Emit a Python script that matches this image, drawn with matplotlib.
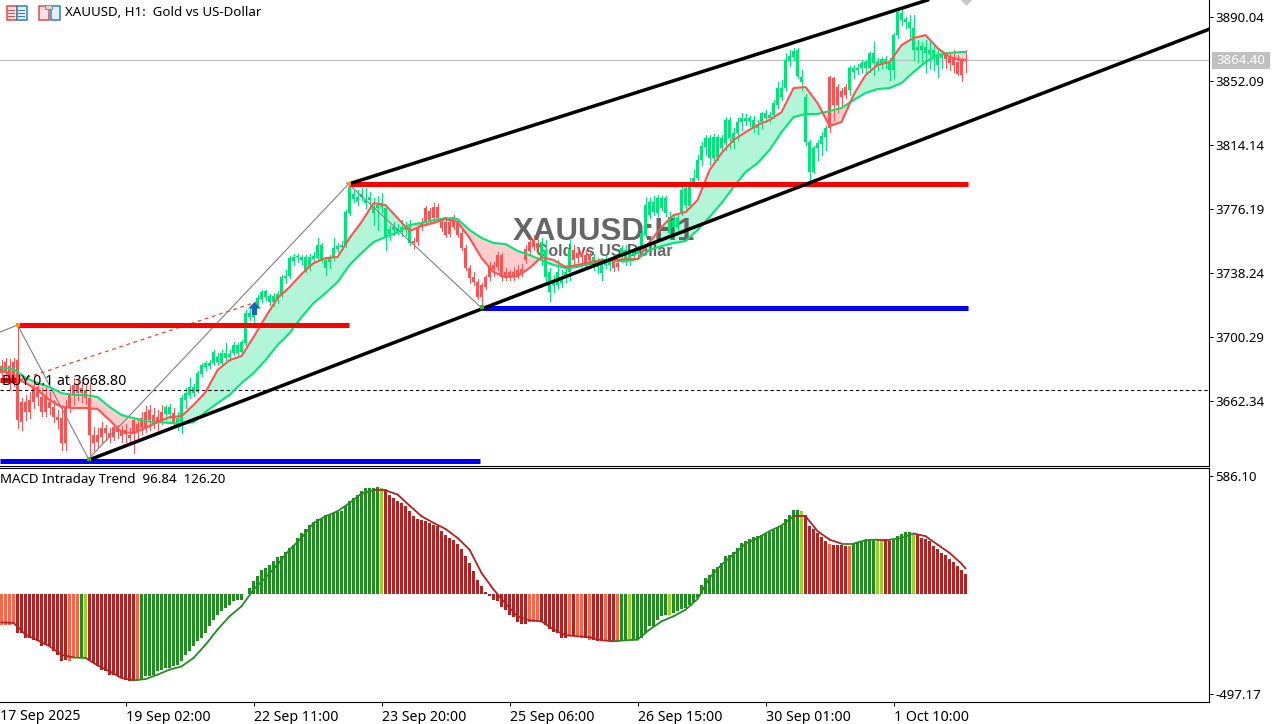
import numpy as np
import matplotlib
matplotlib.use("Agg")
import matplotlib.pyplot as plt
from matplotlib.collections import LineCollection
from matplotlib.patches import Rectangle
from matplotlib.path import Path

# candles (colour in the terminal follows the trend, so open/close order keeps it)
opens = [3683.1,3685.4,3683.1,3685.4,3686.6,3661.7,3661.7,3662.9,3670.6,3670.6,3664.7,3664.7,3661.7,3658.8,3652.8,3652.2,3658.8,3667.0,3671.8,3671.8,
    3670.0,3668.8,3664.1,3642.1,3642.1,3646.3,3646.3,3643.3,3646.9,3646.3,3643.9,3645.1,3642.1,3651.0,3648.7,3652.2,3655.8,3657.0,3654.0,3652.8,
    3655.8,3654.6,3654.6,3655.2,3648.1,3649.8,3662.9,3665.9,3667.0,3667.6,3678.3,3682.5,3683.1,3684.8,3685.4,3684.8,3687.8,3688.4,3690.8,3690.8,
    3691.4,3696.7,3712.1,3712.1,3719.2,3722.8,3724.0,3721.0,3721.0,3722.2,3725.2,3735.3,3736.4,3745.3,3747.7,3745.9,3740.0,3741.8,3746.5,3747.1,
    3746.5,3741.2,3744.7,3747.1,3752.4,3753.6,3754.8,3773.8,3782.1,3780.9,3783.3,3779.7,3781.5,3773.8,3776.8,3777.4,3759.0,3761.3,3763.7,3763.1,
    3762.5,3763.7,3756.0,3757.2,3764.9,3767.9,3776.8,3775.0,3777.4,3777.4,3768.5,3768.5,3768.5,3771.4,3767.9,3761.9,3753.0,3741.2,3735.8,3732.9,
    3731.1,3735.8,3741.8,3743.0,3748.9,3748.9,3738.8,3738.8,3738.8,3740.0,3740.6,3752.4,3756.6,3757.8,3756.0,3747.1,3735.8,3726.9,3731.1,3731.1,
    3732.3,3735.8,3738.8,3751.9,3750.1,3750.1,3748.9,3748.9,3741.8,3741.8,3738.2,3743.0,3743.0,3745.9,3744.1,3747.7,3745.9,3745.9,3748.9,3750.1,
    3751.9,3760.7,3772.6,3774.4,3773.8,3776.8,3773.8,3761.9,3765.5,3765.5,3774.4,3778.5,3778.0,3792.2,3794.5,3805.2,3812.9,3806.4,3806.4,3807.0,
    3812.3,3815.3,3818.3,3815.3,3821.2,3827.8,3828.4,3828.4,3824.2,3824.2,3827.8,3830.1,3830.1,3831.9,3837.8,3842.6,3847.9,3863.9,3866.3,3855.0,
    3851.5,3815.9,3798.1,3798.1,3812.3,3814.7,3818.9,3854.4,3853.8,3848.5,3846.1,3848.5,3846.7,3857.4,3858.6,3859.8,3859.8,3859.8,3862.8,3861.6,
    3862.8,3862.8,3858.6,3858.6,3879.3,3888.2,3887.1,3883.5,3870.5,3870.5,3870.5,3868.7,3868.1,3865.7,3861.6,3865.7,3867.5,3865.7,3865.7,3863.3,3864.5,3865.1]
closes = [3678.9,3679.5,3674.8,3676.0,3651.0,3649.8,3655.8,3655.8,3661.7,3664.7,3655.8,3655.8,3658.2,3652.8,3651.0,3637.4,3637.4,3658.2,3665.9,3667.0,
    3667.0,3664.1,3642.1,3637.4,3638.0,3640.9,3643.3,3640.9,3640.9,3643.9,3641.5,3642.7,3640.4,3643.9,3643.9,3646.3,3646.3,3651.0,3648.7,3649.8,
    3651.0,3658.8,3658.8,3649.3,3652.2,3664.1,3667.0,3670.6,3670.6,3678.9,3683.7,3684.8,3684.8,3691.4,3688.4,3690.8,3690.8,3690.2,3695.5,3695.5,
    3697.3,3714.5,3714.5,3713.9,3723.4,3726.9,3727.5,3724.6,3724.6,3725.8,3735.8,3736.4,3747.1,3747.7,3748.3,3747.7,3747.7,3747.7,3748.3,3754.8,
    3754.8,3745.9,3747.7,3753.0,3754.2,3754.8,3774.4,3789.2,3785.1,3783.3,3785.1,3781.5,3783.3,3777.4,3778.5,3779.7,3776.8,3764.3,3765.5,3764.9,
    3765.5,3765.5,3765.5,3756.0,3756.6,3765.5,3768.5,3769.6,3770.8,3770.8,3764.9,3760.7,3761.3,3765.5,3760.7,3753.0,3741.2,3735.3,3732.9,3724.0,
    3724.0,3729.9,3735.8,3740.6,3741.8,3735.8,3735.8,3735.8,3736.4,3737.0,3738.2,3745.9,3751.3,3753.6,3753.0,3756.6,3751.9,3738.8,3732.9,3738.8,
    3735.8,3738.8,3751.9,3745.9,3747.1,3747.7,3744.1,3745.9,3747.7,3744.1,3744.1,3745.9,3745.9,3741.2,3741.8,3753.0,3751.9,3750.1,3750.7,3751.9,
    3761.9,3778.5,3780.3,3780.3,3782.7,3782.7,3782.7,3771.4,3769.6,3770.8,3787.4,3788.6,3789.8,3794.5,3805.2,3813.5,3818.3,3818.3,3818.9,3818.9,
    3818.3,3829.0,3829.0,3821.2,3827.8,3830.1,3830.1,3830.1,3829.0,3826.0,3833.1,3833.1,3831.9,3839.0,3847.9,3847.9,3864.5,3866.9,3869.9,3870.5,
    3854.4,3842.6,3815.9,3812.3,3815.3,3819.5,3824.2,3824.2,3837.8,3837.8,3842.6,3843.8,3859.8,3859.8,3859.8,3862.8,3863.4,3868.7,3868.7,3863.4,
    3865.1,3865.1,3862.8,3879.3,3893.0,3892.4,3888.8,3887.1,3883.5,3872.2,3872.8,3872.2,3870.5,3870.5,3867.5,3867.5,3865.1,3862.8,3861.6,3856.2,3855.6,3864.4]
highs = [3686.6,3687.8,3687.2,3687.8,3707.4,3664.1,3665.9,3667.6,3674.8,3673.6,3670.0,3671.2,3667.6,3662.9,3657.0,3660.0,3662.9,3671.8,3676.0,3674.8,
    3673.6,3672.4,3673.0,3646.9,3646.3,3649.8,3648.1,3646.3,3648.7,3648.1,3647.5,3648.7,3646.3,3652.2,3651.0,3655.8,3659.4,3660.0,3658.2,3657.0,
    3660.0,3660.0,3660.5,3658.2,3655.8,3665.9,3670.0,3676.0,3672.4,3680.1,3684.8,3686.0,3686.6,3692.6,3690.8,3692.6,3696.7,3692.6,3697.3,3696.7,
    3698.5,3716.3,3717.5,3715.7,3725.2,3728.1,3728.1,3725.8,3726.4,3727.5,3737.0,3740.0,3748.3,3749.5,3749.5,3748.9,3748.9,3749.5,3750.7,3759.0,
    3756.0,3747.1,3748.9,3759.0,3756.0,3757.2,3775.6,3790.4,3787.4,3787.4,3788.6,3788.6,3786.2,3782.7,3783.9,3785.6,3778.5,3766.7,3768.5,3767.3,
    3769.6,3768.5,3769.6,3759.0,3766.7,3770.8,3778.0,3776.8,3779.7,3779.1,3770.8,3769.6,3771.4,3772.6,3769.6,3763.7,3754.8,3743.0,3738.8,3734.6,
    3732.3,3737.0,3744.7,3744.7,3750.7,3750.1,3741.2,3740.0,3741.8,3743.0,3743.6,3754.8,3759.0,3760.7,3757.8,3759.0,3757.8,3741.2,3737.0,3745.9,
    3740.0,3743.0,3757.8,3754.8,3753.0,3751.9,3751.9,3750.7,3749.5,3747.1,3747.1,3748.3,3747.1,3748.3,3745.9,3754.8,3754.8,3751.9,3753.0,3754.2,
    3763.7,3783.3,3782.7,3783.9,3784.5,3783.9,3783.9,3774.4,3772.6,3772.6,3789.8,3791.0,3794.5,3799.3,3808.2,3815.9,3820.0,3820.0,3820.6,3820.0,
    3820.0,3830.7,3830.7,3824.2,3830.1,3833.1,3832.5,3831.3,3831.3,3829.0,3833.7,3834.9,3833.7,3840.8,3851.5,3852.7,3868.7,3870.5,3871.6,3871.6,
    3858.6,3844.4,3817.1,3813.5,3817.1,3821.8,3826.0,3855.0,3854.4,3850.3,3847.9,3850.3,3861.0,3861.6,3862.2,3864.5,3864.5,3869.3,3875.2,3865.7,
    3866.3,3866.9,3865.7,3880.5,3895.4,3895.4,3890.0,3891.2,3891.2,3876.4,3875.2,3876.4,3875.2,3873.4,3871.6,3870.5,3869.3,3869.3,3870.5,3867.5,3865.7,3870.5]
lows = [3674.8,3674.2,3668.8,3671.2,3646.3,3645.1,3651.0,3652.2,3658.2,3660.0,3653.4,3653.4,3654.6,3649.8,3646.3,3633.3,3633.3,3655.8,3660.0,3662.9,
    3661.7,3660.5,3628.5,3633.3,3634.4,3636.8,3639.2,3638.0,3639.2,3640.4,3638.0,3638.0,3636.8,3631.5,3640.4,3642.7,3643.9,3645.1,3646.3,3645.1,
    3648.7,3651.0,3652.2,3646.3,3645.1,3643.3,3658.2,3664.1,3665.3,3667.6,3677.1,3680.7,3681.9,3683.7,3683.7,3683.7,3686.6,3686.0,3689.6,3689.0,
    3690.2,3695.5,3710.3,3709.2,3718.0,3721.0,3722.2,3719.2,3718.6,3720.4,3724.0,3732.3,3735.3,3743.0,3744.7,3743.6,3738.8,3740.0,3744.7,3745.9,
    3744.7,3737.0,3741.2,3745.9,3750.7,3751.9,3753.6,3772.6,3780.3,3778.5,3781.5,3776.8,3778.0,3766.7,3763.7,3774.4,3751.9,3757.8,3760.7,3761.3,
    3760.2,3760.7,3754.8,3753.0,3754.8,3763.7,3766.7,3768.5,3768.5,3769.6,3763.1,3759.6,3760.2,3764.3,3759.6,3751.9,3740.0,3732.3,3731.1,3722.8,
    3718.6,3728.7,3734.1,3736.4,3740.0,3734.1,3734.1,3734.1,3734.1,3735.3,3736.4,3744.1,3749.5,3751.9,3750.7,3743.0,3732.9,3721.6,3726.9,3729.3,
    3729.9,3732.9,3734.1,3743.6,3744.7,3744.7,3742.4,3743.6,3740.0,3738.2,3734.1,3741.2,3740.0,3739.4,3740.0,3744.7,3743.0,3743.0,3747.1,3747.1,
    3750.7,3759.6,3770.8,3772.6,3772.0,3775.6,3772.0,3759.0,3762.5,3763.7,3772.6,3775.6,3776.8,3789.8,3793.4,3802.3,3808.2,3802.3,3805.2,3805.2,
    3810.0,3811.2,3812.3,3812.3,3817.1,3823.0,3826.0,3825.4,3821.8,3820.6,3824.2,3827.8,3827.8,3830.1,3836.1,3840.8,3846.7,3861.0,3864.5,3853.9,
    3846.7,3814.1,3793.4,3797.5,3805.2,3808.2,3811.2,3821.8,3829.0,3833.7,3837.8,3842.0,3843.8,3853.9,3856.2,3857.4,3857.4,3857.4,3855.6,3858.6,
    3859.8,3859.8,3852.7,3853.9,3877.6,3885.3,3883.5,3878.2,3864.5,3863.3,3861.6,3857.4,3859.8,3858.6,3854.4,3859.8,3859.8,3858.6,3857.4,3855.6,3852.1,3857.4]

# ribbon of the two moving averages, read every third bar
ribbon_bars = list(range(0, 241, 3)) + [241]
fast_ma = [3680.7,3676.5,3673.0,3668.8,3662.9,3658.8,3658.2,3658.2,3657.6,3651.0,3643.9,3643.3,3646.3,3649.8,3652.8,3653.4,3660.0,3667.6,3680.7,3686.6,
    3689.0,3700.3,3712.1,3723.4,3729.9,3737.6,3744.1,3747.1,3747.7,3759.0,3768.5,3779.7,3778.5,3770.8,3763.1,3766.1,3767.9,3770.2,3768.5,3759.0,
    3747.1,3738.8,3735.8,3736.4,3741.2,3747.7,3745.9,3741.8,3743.0,3744.7,3745.9,3745.9,3746.5,3746.5,3756.6,3765.5,3772.6,3774.4,3781.5,3799.3,
    3809.4,3817.1,3821.8,3826.0,3829.0,3833.7,3847.9,3848.5,3839.0,3825.4,3827.8,3843.8,3855.6,3861.6,3863.3,3873.4,3877.6,3879.3,3871.6,3866.3,3864.5,3864.5]
slow_ma = [3681.9,3681.3,3676.0,3673.0,3670.6,3667.0,3665.9,3665.9,3664.7,3658.8,3654.0,3652.2,3650.4,3649.8,3649.3,3648.7,3649.8,3655.8,3661.1,3665.9,
    3673.0,3678.9,3686.6,3695.5,3702.6,3712.1,3720.4,3726.3,3732.9,3743.0,3750.1,3756.6,3759.6,3762.5,3766.7,3767.9,3769.6,3770.8,3770.2,3763.7,
    3759.0,3756.0,3755.4,3751.3,3748.9,3745.9,3743.0,3741.2,3741.8,3743.6,3744.7,3745.3,3745.3,3746.5,3751.9,3754.2,3756.0,3757.2,3763.7,3771.4,
    3779.7,3789.2,3798.1,3803.4,3811.2,3821.8,3830.7,3832.5,3832.5,3834.3,3836.1,3840.8,3845.0,3847.3,3847.9,3850.9,3857.4,3863.3,3867.5,3868.7,3869.3,3869.3]

# MACD Intraday Trend histogram
macd_hist = [-152,-152,-152,-144,-194,-194,-219,-219,-227,-235,-260,-252,-260,-285,-302,-335,-326,-335,-318,-318,
    -318,-318,-326,-343,-360,-376,-384,-401,-401,-409,-418,-426,-434,-434,-434,-426,-409,-409,-401,-384,
    -376,-368,-368,-360,-351,-335,-302,-285,-260,-235,-219,-194,-161,-128,-103,-86,-70,-53,-36,-28,
    -28,-2,30,63,91,121,129,146,162,184,188,207,229,245,278,303,323,345,356,370,
    373,394,394,403,406,411,436,461,477,494,510,527,527,527,532,527,519,494,477,461,
    452,436,411,386,373,366,361,353,345,336,312,295,278,270,250,224,187,154,116,71,
    38,10,-12,-32,-36,-65,-78,-103,-114,-141,-147,-147,-141,-141,-131,-141,-152,-174,-191,-194,
    -219,-219,-210,-202,-202,-219,-219,-227,-227,-235,-235,-235,-235,-239,-239,-230,-227,-224,-224,-224,
    -219,-194,-161,-157,-128,-111,-106,-103,-94,-86,-75,-70,-53,-40,-20,46,80,96,124,134,
    154,187,196,207,229,254,262,273,283,287,295,303,307,320,333,345,370,394,416,419,
    414,394,340,323,303,282,262,250,245,245,245,240,240,250,254,262,265,270,273,267,
    267,273,262,267,290,298,308,310,292,292,278,273,262,240,224,204,196,174,157,138,121,96.84]
# G rising, L turning up, R falling, T turning down
hist_state = ("T"*4 + "R"*13 + "T"*3 + "G" + "L" + "R"*12 + "T" + "G"*60 + "L" + "R"*36 + "TTT" + "R"*7
    + "TRTTRT" + "RRR" + "T" + "RR" + "T" + "GG" + "L" + "G"*9 + "L" + "G"*32 + "L" + "R"*6 + "T" + "R"*4
    + "T" + "G"*6 + "LL" + "RR" + "G"*5 + "L" + "R"*13)
macd_signal = [-141,-144,-202,-230,-260,-302,-316,-318,-355,-384,-418,-429,-423,-401,-376,-360,-318,-252,-177,-111,
    -61,22,80,146,220,278,353,386,411,452,499,515,515,494,439,386,353,323,278,220,
    104,22,-48,-111,-131,-136,-177,-205,-210,-215,-230,-235,-230,-227,-177,-136,-111,-78,-25,80,
    146,196,250,278,312,340,386,386,312,270,250,250,267,270,270,278,300,287,245,204,150,126.2]

price_ticks = [3890.04, 3852.09, 3814.14, 3776.19, 3738.24, 3700.29, 3662.34]
macd_ticks = [586.10, -497.17]
time_tick_bars = [31, 63, 95, 127, 159, 191, 223]
time_labels = ["19 Sep 02:00", "22 Sep 11:00", "23 Sep 20:00", "25 Sep 06:00", "26 Sep 15:00", "30 Sep 01:00", "1 Oct 10:00"]
last_price = 3864.40
order_price = 3668.80

# analysis objects drawn by hand on the chart: (bar, price)
zigzag_bars = [-0.4, 4, 21.75, 86.75, 120]
zigzag_prices = [3703.2, 3707.4, 3628.0, 3791.0, 3717.5]
resistance_segments = [(4, 86.75, 3707.4), (86.75, 241.5, 3791.0)]
support_segments = [(-0.4, 119.5, 3627.0), (120, 241.5, 3717.5)]
channel_upper = [(86.75, 3791.0), (231.5, 3900.1)]
channel_lower = [(21.75, 3627.3), (302, 3882.9)]
order_path = [(4.5, 3674.8), (63.7, 3721.0)]

W, H = 1285, 724
BULL, BEAR = "#00E676", "#FF5252"
STATE_COLORS = {"G": "#228B22", "L": "#9ACD32", "R": "#B22222", "T": "#FF6347"}

plt.rcParams["font.family"] = ["Noto Sans", "DejaVu Sans"]
plt.rcParams["font.size"] = 9.5

fig = plt.figure(figsize=(W / 100, H / 100), dpi=100, facecolor="white")
ax = fig.add_axes([0, (H - 466) / H, 1209 / W, 466 / H])
ax_macd = fig.add_axes([0, (H - 702) / H, 1209 / W, 234 / H], sharex=ax)


def px_rect(x, y, w, h, **kw):
    fig.add_artist(Rectangle((x / W, 1 - (y + h) / H), w / W, h / H, transform=fig.transFigure, **kw))


bars = np.arange(len(closes))
opens_a, closes_a = np.array(opens), np.array(closes)
candle_colors = np.where(closes_a >= opens_a, BULL, BEAR)

fast = np.array(fast_ma)
slow = np.array(slow_ma)
ax.fill_between(ribbon_bars, fast, slow, where=fast >= slow, interpolate=True, color="#B2F5D8", lw=0, zorder=1)
ax.fill_between(ribbon_bars, fast, slow, where=fast <= slow, interpolate=True, color="#FFCDCD", lw=0, zorder=1)

# watermark sits over the ribbon fill but under the candles
ax.text(150.6, 3762.5, "XAUUSD:H1", family="Liberation Sans", weight="bold", fontsize=22.5, color="#666666",
        ha="center", va="center", zorder=1.5)
ax.text(150.6, 3751.0, "Gold vs US-Dollar", family="Liberation Sans", weight="bold", fontsize=11.5, color="#666666",
        ha="center", va="center", zorder=1.5)

ax.vlines(bars, lows, highs, colors=candle_colors, lw=0.72, antialiased=False, zorder=2)
ax.bar(bars, np.abs(closes_a - opens_a) + 0.3, bottom=np.minimum(opens_a, closes_a) - 0.15, width=0.76,
       color=candle_colors, lw=0, antialiased=False, zorder=2.1)

ax.plot(ribbon_bars, slow, color=BULL, lw=1.5, zorder=3)
ax.plot(ribbon_bars, fast, color=BEAR, lw=1.5, zorder=3.1)

ax.axhline(last_price, color="#C0C0C0", lw=0.9, zorder=1.8)
ax.axhline(order_price, color="black", lw=0.8, dashes=(3, 2.5), zorder=2.5)
ax.plot(zigzag_bars, zigzag_prices, color="#808080", lw=0.8, zorder=2.6)
ax.plot(*zip(*order_path), color="#E8482C", lw=0.9, dashes=(3, 3), zorder=2.6)

for x0, x1, price in resistance_segments:
    ax.plot([x0, x1], [price, price], color="#FF0000", lw=3.6, solid_capstyle="butt", zorder=4)
for x0, x1, price in support_segments:
    ax.plot([x0, x1], [price, price], color="#0000FF", lw=3.6, solid_capstyle="butt", zorder=4)
ax.plot(*zip(*channel_upper), color="black", lw=2.5, zorder=5)
ax.plot(*zip(*channel_lower), color="black", lw=2.5, zorder=5)

# entry marker and open order label
ax.plot([-0.4, 3.5], [3674.8, 3674.8], color="#FF0000", lw=3.6, solid_capstyle="butt", zorder=4)
ax.text(0.2, 3673.8, "BUY 0.1 at 3668.80", fontsize=10.2, va="center", ha="left", zorder=6)

arrow = Path([(-.4, -1), (.4, -1), (.4, 0), (1, 0), (0, 1), (-1, 0), (-.4, 0), (-.4, -1)], closed=True)
ax.scatter([63], [3717.5], marker=arrow, s=85, color="#1565B0", lw=0, zorder=6)
ax.scatter([4, 86.75], [3707.4, 3791.0], marker="s", s=10, color="#FF9800", lw=0, zorder=6)
ax.scatter([21.75, 120], [3627.8, 3717.8], marker="s", s=5, color="#22C02A", lw=0, zorder=6)
ax.scatter([241], [3900.6], marker="D", s=42, color="#C8C8C8", lw=0, zorder=6)

ax.set_xlim(-0.39, 301.86)
ax.set_ylim(3900.12 - 466 / 1.6864, 3900.12)
ax.yaxis.tick_right()
ax.set_yticks(price_ticks, [f"{p:.2f}" for p in price_ticks])
ax.tick_params(axis="y", length=3, width=0.72, pad=1.5, labelsize=9.5)
ax.tick_params(axis="x", length=0, labelbottom=False)
for side in ["left", "top"]:
    ax.spines[side].set_visible(False)
for side in ["right", "bottom"]:
    ax.spines[side].set_linewidth(0.8)

# MACD panel
hist_colors = [STATE_COLORS[s] for s in hist_state]
ax_macd.bar(bars, macd_hist, width=0.76, color=hist_colors, lw=0, antialiased=False, zorder=2)
sig_pts = np.column_stack([ribbon_bars, macd_signal])
sig_segs = np.stack([sig_pts[:-1], sig_pts[1:]], axis=1)
sig_colors = ["#B22222" if hist_state[b] in "RT" else "#228B22" for b in ribbon_bars[1:]]
ax_macd.add_collection(LineCollection(sig_segs, colors=sig_colors, linewidths=1.3, zorder=3, capstyle="round"))

ax_macd.set_ylim(-497.17 - 8 * 4.97, 586.10 + 8 * 4.97)
ax_macd.yaxis.tick_right()
ax_macd.set_yticks(macd_ticks, [f"{v:.2f}" for v in macd_ticks])
ax_macd.set_xticks(time_tick_bars, time_labels, ha="left")
ax_macd.tick_params(axis="y", length=3, width=0.72, pad=1.5, labelsize=9.5)
ax_macd.tick_params(axis="x", length=3, width=0.72, pad=2.5, labelsize=10.2)
ax_macd.spines["left"].set_visible(False)
for side in ["right", "bottom", "top"]:
    ax_macd.spines[side].set_linewidth(0.8)
ax_macd.text(0.0, 1 - 12 / 234, "MACD Intraday Trend  96.84  126.20", transform=ax_macd.transAxes, va="center", ha="left",
             fontsize=9.6)

# first date label has no tick of its own
fig.text(0, 1 - 716 / H, "17 Sep 2025", fontsize=10.2, va="center", ha="left")

# title with the two toolbar icons
fig.text(65 / W, 1 - 13 / H, "XAUUSD, H1:  Gold vs US-Dollar", fontsize=9.6, va="center", ha="left")
px_rect(6.5, 6.5, 10, 13, fc="#FBE3E3", ec="#E04848", lw=1.1)
px_rect(16.5, 6.5, 10, 13, fc="#E3EEF8", ec="#2F7FBF", lw=1.1)
for yy in [10, 13, 16]:
    px_rect(8, yy, 7, 1, fc="#E04848", lw=0)
    px_rect(18, yy, 7, 1, fc="#2F7FBF", lw=0)
px_rect(38.5, 6.5, 10, 13, fc="#FBE3E3", ec="#E04848", lw=1.1)
px_rect(50.5, 6.5, 9, 13, fc="#E3EEF8", ec="#2F7FBF", lw=1.1)
px_rect(45, 5, 7, 4, fc="#D8D8D8", ec="#909090", lw=0.8)

# current price tag in the scale
px_rect(1212, 52, 58, 17, fc="#C0C0C0", lw=0)
fig.text(1241 / W, 1 - 60.5 / H, f"{last_price:.2f}", color="white", fontsize=9.5, va="center", ha="center")

fig.savefig("out.png", dpi=100)
